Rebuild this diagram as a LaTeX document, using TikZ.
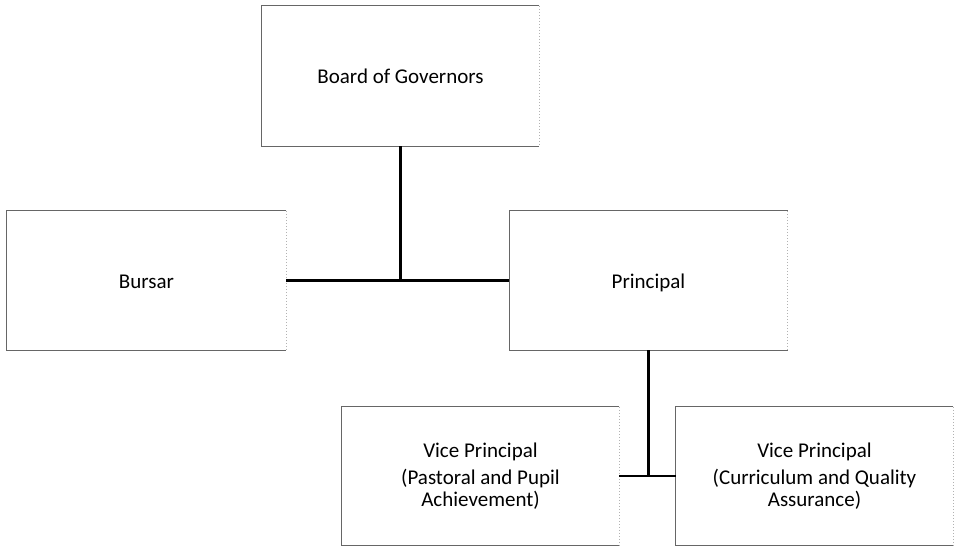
\documentclass[tikz,border=0pt]{standalone}
\usepackage{fontspec}
\setmainfont{Carlito}
\begin{document}
\begin{tikzpicture}[x=1pt,y=-1pt,
  box/.style={draw=none,inner sep=0pt,align=center,font=\fontsize{21}{22}\selectfont},
  onel/.style={text height=16pt,text depth=1pt},
  edge/.style={draw=black!60,line width=1.3pt},
  redge/.style={draw=black!30,line width=1pt,dotted},
  conn/.style={draw=black,line width=2.6pt}]
\useasboundingbox (0,0) rectangle (954,546);
\node[box,onel,minimum width=277pt,minimum height=140pt] (board) at (400.5,76) {Board of Governors};
\node[box,onel,minimum width=279pt,minimum height=139pt] (bursar) at (146.5,280.5) {Bursar};
\node[box,onel,minimum width=278pt,minimum height=139pt] (principal) at (648.5,280.5) {Principal};
\node[box,minimum width=277pt,minimum height=138pt] (vpl) at (480.5,476) {Vice Principal\\[5pt](Pastoral and Pupil\\Achievement)};
\node[box,minimum width=277pt,minimum height=138pt] (vpr) at (814.5,476) {Vice Principal\\[5pt](Curriculum and Quality\\Assurance)};
\foreach \n in {board,bursar,principal,vpl,vpr}{
  \draw[edge] (\n.north east) -- (\n.north west) -- (\n.south west) -- (\n.south east);
  \draw[redge] (\n.north east) -- (\n.south east);
}
\draw[conn] (board.south) -- (board.south |- bursar.east);
\draw[conn] (bursar.east) -- (principal.west);
\draw[conn] (principal.south) -- (principal.south |- vpl.east);
\draw[conn] (vpl.east) -- (vpr.west);
\end{tikzpicture}
\end{document}
